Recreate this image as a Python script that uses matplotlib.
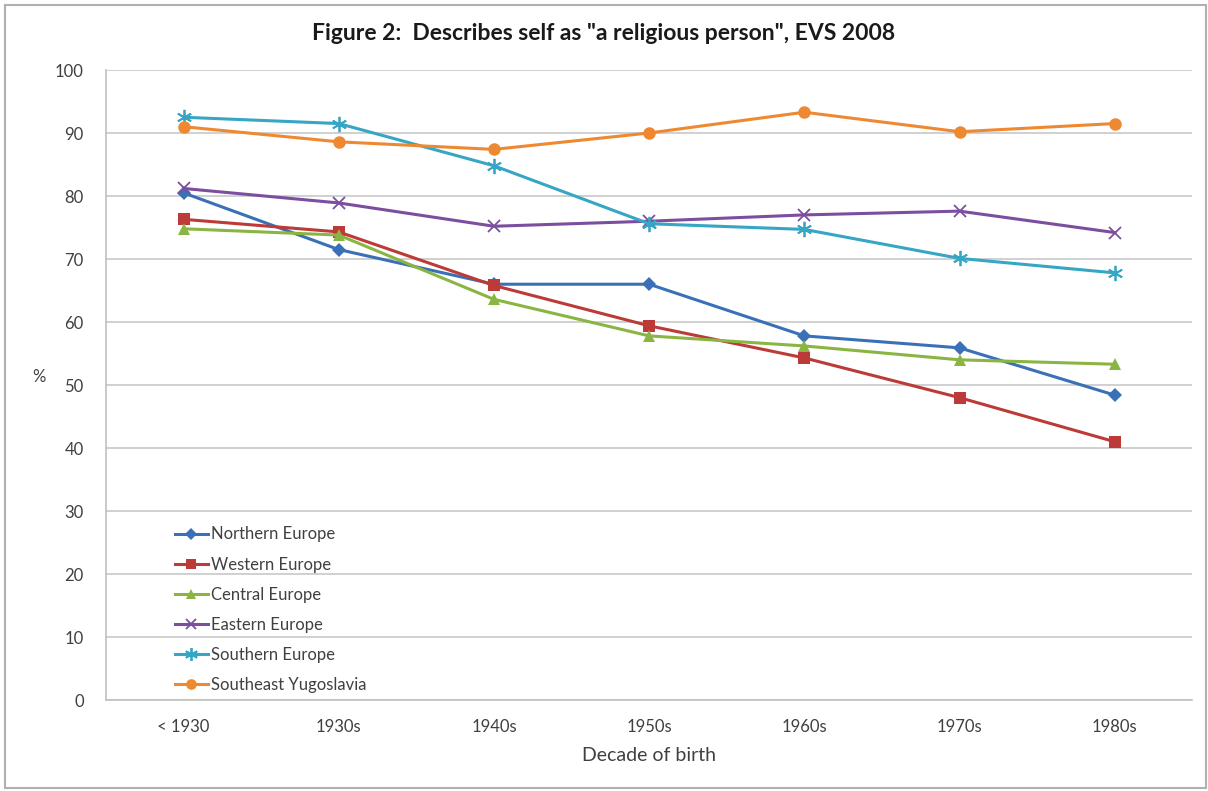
import matplotlib.pyplot as plt
from matplotlib.patches import Rectangle

decades = ['< 1930', '1930s', '1940s', '1950s', '1960s', '1970s', '1980s']

northern = [80.5, 71.5, 66.0, 66.0, 57.8, 55.9, 48.4]
western = [76.3, 74.3, 65.8, 59.4, 54.3, 48.0, 41.0]
central = [74.8, 73.8, 63.6, 57.8, 56.2, 54.0, 53.3]
eastern = [81.2, 78.9, 75.2, 76.0, 77.0, 77.6, 74.2]
southern = [92.5, 91.5, 84.8, 75.6, 74.7, 70.1, 67.8]
se_yugoslavia = [91.0, 88.6, 87.4, 90.0, 93.3, 90.2, 91.5]

series = [
    ('Northern Europe', northern, '#3A70B6', 'D', 7),
    ('Western Europe', western, '#BC3A37', 's', 8),
    ('Central Europe', central, '#8AB543', '^', 8),
    ('Eastern Europe', eastern, '#7B4EA0', 'x', 9),
    ('Southern Europe', southern, '#36A6C4', (6, 2, 0), 11),
    ('Southeast Yugoslavia', se_yugoslavia, '#EE8932', 'o', 9),
]

plt.rcParams['font.family'] = ['Lato', 'DejaVu Sans']

fig = plt.figure(figsize=(12.08, 7.91), dpi=100)
ax = fig.add_axes([0.0877, 0.115, 0.8993, 0.7965])

x = range(len(decades))
for name, vals, color, marker, ms in series:
    kw = dict(markeredgewidth=1.3) if marker in ('x', (6, 2, 0)) else dict(markeredgewidth=0)
    ax.plot(x, vals, color=color, lw=2.2, marker=marker, markersize=ms,
            markerfacecolor=color, markeredgecolor=color, label=name, **kw)

ax.set_xlim(-0.5, len(decades) - 0.5)
ax.set_ylim(0, 100)
ax.set_yticks(range(0, 101, 10))
ax.set_xticks(list(x))
ax.set_xticklabels(decades)
ax.tick_params(length=0, labelsize=12, colors='#404040')
ax.tick_params(axis='x', pad=14)
ax.tick_params(axis='y', pad=16)
ax.grid(axis='y', color='#C8C8C8', lw=1.2)
ax.set_axisbelow(True)
for side in ('top', 'right'):
    ax.spines[side].set_visible(False)
ax.spines['left'].set_color('#C0C0C0')
ax.spines['bottom'].set_color('#C0C0C0')
ax.spines['left'].set_linewidth(1.2)
ax.spines['bottom'].set_linewidth(1.2)

ax.set_xlabel('Decade of birth', fontsize=14, color='#404040', labelpad=8)
ax.set_ylabel('%', fontsize=12, color='#404040', rotation=0, labelpad=14)
ax.yaxis.set_label_coords(-0.062, 0.5)

fig.text(0.5, 0.958, 'Figure 2:  Describes self as "a religious person", EVS 2008',
         ha='center', va='center', fontsize=16.5, fontweight='bold', color='#1a1a1a')

ax.legend(loc='lower left', bbox_to_anchor=(0.0496, -0.013), frameon=False,
          fontsize=12, handlelength=2.0, handletextpad=0.15, labelspacing=0.85,
          markerscale=0.85, labelcolor='#404040')

fig.patches.append(Rectangle((0.004, 0.004), 0.994, 0.99, transform=fig.transFigure,
                             fill=False, edgecolor='#B0B0B0', lw=1.5))

fig.savefig('out.png', dpi=100)
